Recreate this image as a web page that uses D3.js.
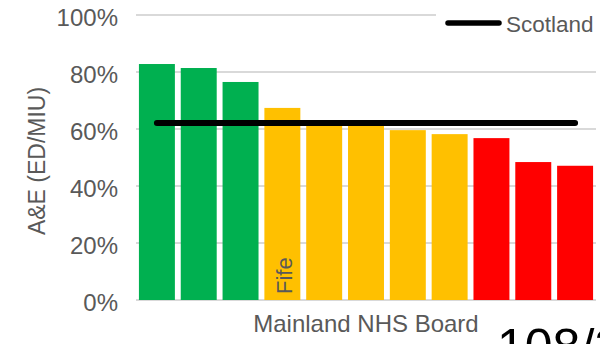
<!DOCTYPE html>
<html><head><meta charset="utf-8">
<script src="https://cdn.jsdelivr.net/npm/d3@7"></script>
<style>body{margin:0;background:#fff}svg{display:block}text{font-family:"Liberation Sans",Arial,sans-serif}</style>
</head><body>
<svg id="c" width="600" height="344"></svg>
<script>
const boards = ["B1","B2","B3","Fife","B5","B6","B7","B8","B9","B10","B11"];
const boardLabels = ["","","","Fife","","","","","","",""];
const values = [82.8, 81.4, 76.5, 67.4, 61.5, 61.2, 59.6, 58.2, 56.8, 48.4, 47.1];
const ragStatus = ["g","g","g","a","a","a","a","a","r","r","r"];
const scotland = 62.1;
const yTicks = [0, 20, 40, 60, 80, 100];
const yTickLabels = ["0%","20%","40%","60%","80%","100%"];
const colours = {g:"#00b050", a:"#ffc000", r:"#ff0000"};

const svg = d3.select("#c");
const x = d3.scaleBand().domain(boards).range([136, 596]).paddingInner(0.14).paddingOuter(0.07);
const y = d3.scaleLinear().domain([0, 100]).range([300, 15]);

// gridlines
svg.append("g").selectAll("line").data(yTicks).join("line")
  .attr("x1", 136).attr("x2", 596)
  .attr("y1", d => y(d)).attr("y2", d => y(d))
  .attr("stroke", "#d9d9d9").attr("stroke-width", 2);

// tick labels
svg.append("g").selectAll("text").data(yTicks).join("text")
  .attr("x", 118).attr("y", d => y(d) + 10.5)
  .attr("text-anchor", "end").attr("font-size", 24).attr("fill", "#595959")
  .text((d, i) => yTickLabels[i]);

// bars
svg.append("g").selectAll("rect").data(values).join("rect")
  .attr("x", (d, i) => x(boards[i])).attr("width", x.bandwidth())
  .attr("y", d => y(d)).attr("height", d => y(0) - y(d))
  .attr("fill", (d, i) => colours[ragStatus[i]]);

// bar labels
svg.append("g").selectAll("text").data(boardLabels).join("text")
  .attr("transform", (d, i) => `translate(${x(boards[i]) + x.bandwidth()/2 + 10},${y(0) - 6}) rotate(-90)`)
  .attr("text-anchor", "start").attr("font-size", 22).attr("fill", "#595959")
  .text(d => d);

// Scotland line
const line = d3.line().x(d => d[0]).y(d => d[1]);
svg.append("path")
  .attr("d", line([[x(boards[0]) + x.bandwidth()/2, y(scotland)], [x(boards[boards.length-1]) + x.bandwidth()/2, y(scotland)]]))
  .attr("stroke", "#000").attr("stroke-width", 6).attr("stroke-linecap", "round").attr("fill", "none");

// legend
const lg = svg.append("g");
lg.append("rect").attr("x", 436).attr("y", 4).attr("width", 164).attr("height", 36).attr("fill", "#fff");
lg.append("line").attr("x1", 448).attr("x2", 499).attr("y1", 23).attr("y2", 23)
  .attr("stroke", "#000").attr("stroke-width", 5.5).attr("stroke-linecap", "round");
lg.append("text").attr("x", 506).attr("y", 32).attr("font-size", 22.5).attr("fill", "#595959").text("Scotland");

// axis titles
svg.append("text").attr("transform", "translate(45,161) rotate(-90)")
  .attr("text-anchor", "middle").attr("font-size", 23).attr("fill", "#595959").text("A&E (ED/MIU)");
svg.append("text").attr("x", 366).attr("y", 332)
  .attr("text-anchor", "middle").attr("font-size", 24).attr("fill", "#595959").text("Mainland NHS Board");

// page number (cut off)
svg.append("text").attr("x", 497).attr("y", 364).attr("font-size", 50).attr("fill", "#000").text("108/2");
</script>
</body></html>
